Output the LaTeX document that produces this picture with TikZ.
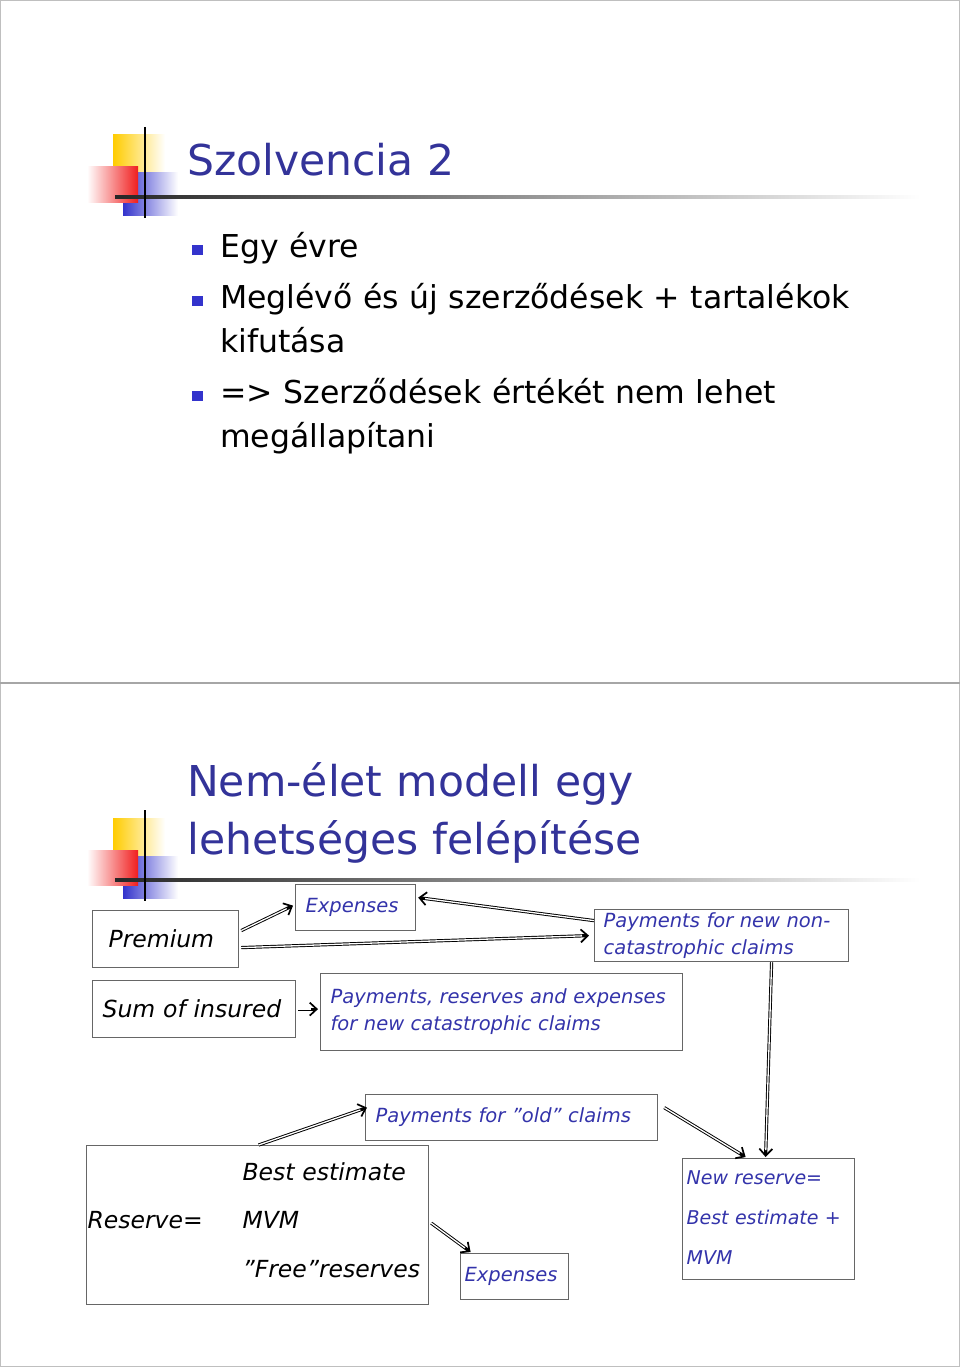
\documentclass[tikz,border=0pt]{standalone}
\usepackage{fontspec}
\setmainfont{DejaVu Sans}
\usetikzlibrary{arrows.meta}
\definecolor{ttlblue}{RGB}{51,51,153}
\definecolor{txtblue}{RGB}{51,51,170}
\definecolor{bulblue}{RGB}{51,51,204}
\definecolor{logoyel}{RGB}{255,204,0}
\definecolor{logored}{RGB}{240,30,30}
\definecolor{logoblu}{RGB}{51,51,204}
\begin{document}
\begin{tikzpicture}[x=1pt,y=-1pt,
  box/.style={draw=black!60,line width=1.2pt,anchor=north west,inner ysep=0pt},
  blk/.style={font=\fontsize{23.5}{30}\selectfont\itshape},
  blu/.style={text=txtblue,font=\fontsize{19.5}{27}\selectfont\itshape},
  ttl/.style={text=ttlblue,anchor=base west,inner sep=0pt,text width=760,align=left,font=\fontsize{42.5}{58}\selectfont},
  itm/.style={anchor=base west,inner sep=0pt,text width=700,align=left,font=\fontsize{31.5}{44}\selectfont},
  bul/.style={fill=bulblue,minimum size=10.5,inner sep=0pt},
  arr/.style={line width=3.2pt,-{Straight Barb[length=7pt,width=13pt,line width=1.7pt]},
    postaction={draw=white,line width=1.3pt,shorten >=7pt,-}}]
  \useasboundingbox (0,0) rectangle (960,1367);
  % slide frames
  \draw[black!25,line width=1pt] (0.5,0.5) rectangle (959.5,683);
  \draw[black!25,line width=1pt] (0.5,683) rectangle (959.5,1366.5);
  \draw[black!35,line width=1.5pt] (0,683) -- (960,683);
  % logo, once per slide
  \foreach \dy in {0,683}{
    \begin{scope}[shift={(0,\dy)}]
      \shade[left color=logoyel,middle color=logoyel!85!white,right color=white] (113,135) rectangle (165,175);
      \shade[left color=logoblu,middle color=logoblu!80!white,right color=white] (123,173) rectangle (178,215);
      \shade[left color=white,right color=logored] (87,167) rectangle (138,202);
      \shade[left color=black!85,right color=white] (115,195.5) rectangle (920,198.5);
      \draw[black,line width=2.5pt] (145,127) -- (145,218);
    \end{scope}
  }
  % slide 1
  \node[ttl] (t1) at (187,176) {Szolvencia 2};
  \node[bul] (s1) at (197.5,250) {};
  \node[itm] (b1) at (220,257) {Egy évre};
  \node[bul] (s2) at (197.5,301) {};
  \node[itm] (b2) at (220,308) {Meglévő és új szerződések + tartalékok\\kifutása};
  \node[bul] (s3) at (197.5,396) {};
  \node[itm] (b3) at (220,403) {=> Szerződések értékét nem lehet\\megállapítani};
  % slide 2
  \node[ttl] (t2) at (187,796) {Nem-élet modell egy\\lehetséges felépítése};
  \node[box,blk,inner xsep=16pt,text width=114,minimum height=57] (prem) at (92,910) {Premium};
  \node[box,blu,inner xsep=10pt,text width=100,minimum height=46] (exp1) at (295,884) {Expenses};
  \node[box,blu,inner xsep=9pt,text width=236,minimum height=52,align=left] (newpay) at (594,909) {Payments for new non-\\catastrophic claims};
  \node[box,blk,inner xsep=10pt,text width=183,minimum height=57] (sum) at (92,980) {Sum of insured};
  \node[box,blu,inner xsep=10pt,text width=342,minimum height=77,align=left] (cat) at (320,973) {Payments, reserves and expenses\\for new catastrophic claims};
  \node[box,blu,inner xsep=10pt,text width=272,minimum height=46] (old) at (365,1094) {Payments for ”old” claims};
  \node[box,blk,inner xsep=1pt,text width=340,minimum height=159,font=\fontsize{23.5}{48.5}\selectfont\itshape] (res) at (86,1145)
    {\begin{tabular}{@{}p{155pt}@{}p{185pt}@{}} & Best estimate\\ Reserve= & MVM\\ & ”Free”reserves\\[12pt]\end{tabular}};
  \node[box,blu,inner xsep=4pt,text width=100,minimum height=46] (exp2) at (460,1253) {Expenses};
  \node[box,blu,inner xsep=4pt,text width=164,minimum height=121,font=\fontsize{19}{40}\selectfont\itshape] (newres) at (682,1158)
    {\raisebox{3pt}[\height][\depth]{\begin{tabular}{@{}l@{}}New reserve=\\Best estimate +\\MVM\end{tabular}}};
  % connectors
  \draw[arr] ([shift={(2,-8.5)}]prem.east) -- ([shift={(-2,-2)}]exp1.west);
  \draw[arr] ([shift={(2,8.5)}]prem.east) -- ([shift={(-5,0)}]newpay.west);
  \draw[arr] ([shift={(0,-15)}]newpay.west) -- ([shift={(2,-10)}]exp1.east);
  \draw[arr] ([shift={(2,0)}]sum.east) -- ([shift={(-2,-3)}]cat.west);
  \draw[arr] ([shift={(50,0)}]newpay.south) -- ([shift={(-3,-1)}]newres.north);
  \draw[arr] ([shift={(1,0)}]res.north) -- ([shift={(2,-10)}]old.west);
  \draw[arr] ([shift={(6,-10)}]old.east) -- ([shift={(-23,-1)}]newres.north);
  \draw[arr] ([shift={(2,-2)}]res.east) -- ([shift={(-44,-1)}]exp2.north);
\end{tikzpicture}
\end{document}
